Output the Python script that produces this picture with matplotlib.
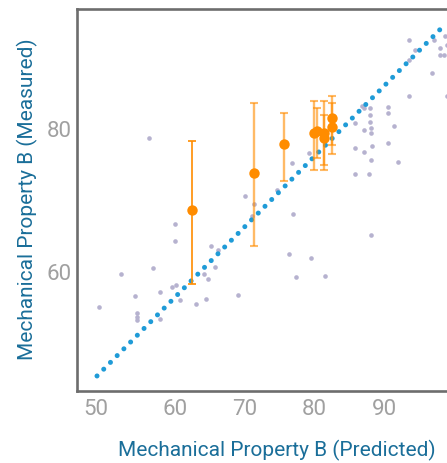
import matplotlib.pyplot as plt
from matplotlib.transforms import ScaledTranslation

# predicted vs measured, all samples (grey)
all_pred = [56.3, 93.6, 94.5, 93.6, 97.2, 98.0, 98.0, 98.6, 98.8, 99.0,
            96.9, 93.6, 99.0, 86.9, 87.1, 88.0, 85.8, 88.0, 88.0, 90.5,
            90.5, 87.1, 88.1, 88.1, 91.4, 85.8, 87.1, 88.2, 90.6, 88.1,
            92.0, 85.8, 87.9, 79.2, 76.8, 74.6, 70.1, 71.3, 76.9, 71.0,
            88.1, 60.0, 60.0, 65.1, 66.1, 76.3, 79.5, 56.9, 52.3, 65.7,
            64.2, 64.8, 77.3, 81.5, 57.9, 59.5, 60.1, 54.3, 60.7, 63.0,
            64.4, 69.0, 49.1, 54.6, 54.6, 54.6, 57.9]
all_meas = [78.6, 92.2, 90.9, 89.5, 92.2, 91.2, 90.1, 90.1, 92.8, 91.5,
            87.6, 84.5, 84.5, 83.1, 82.8, 82.8, 80.7, 81.8, 80.8, 82.9,
            82.0, 79.7, 79.9, 79.3, 80.2, 77.1, 76.6, 77.4, 77.8, 75.5,
            75.2, 73.5, 73.5, 76.5, 75.1, 71.3, 70.5, 69.3, 67.9, 67.6,
            65.0, 66.6, 64.1, 63.5, 62.9, 62.3, 61.8, 60.4, 59.6, 60.5,
            59.6, 58.9, 59.1, 59.3, 57.1, 57.8, 58.0, 56.5, 55.9, 55.3,
            56.0, 56.6, 55.0, 54.1, 53.6, 53.1, 53.2]

# highlighted samples with measured range
sel_pred = [62.4, 71.4, 75.7, 80.0, 80.4, 81.4, 81.4, 82.5, 82.5]
sel_meas = [68.5, 73.7, 77.7, 79.2, 79.5, 79.2, 78.6, 81.3, 80.1]
sel_low = [58.2, 63.4, 72.6, 74.1, 75.8, 74.1, 74.8, 76.4, 77.6]
sel_high = [78.2, 83.4, 82.1, 83.7, 82.8, 83.7, 81.8, 84.5, 83.4]

# reference line
ref_x = [48.8, 98.1]
ref_y = [45.3, 93.8]

xticks = [50, 60, 70, 80, 90]
yticks = [60, 80]

label_color = "#1a6e99"
tick_color = "#a0a0a0"

plt.rcParams["font.family"] = ["Roboto", "DejaVu Sans"]

fig = plt.figure(figsize=(4.47, 4.64), dpi=100)
ax = fig.add_axes([77 / 447, 72 / 464, 383 / 447, 382 / 464])

ax.scatter(all_pred, all_meas, s=11, color="#b6b2cf", linewidths=0, zorder=2)

ax.plot(ref_x, ref_y, color="#1f9bd7", lw=3.6, linestyle=(0, (0.01, 1.9)),
        dash_capstyle="round", zorder=3)

for i in range(len(sel_pred)):
    err = [[sel_meas[i] - sel_low[i]], [sel_high[i] - sel_meas[i]]]
    if i == 0:
        ax.errorbar([sel_pred[i]], [sel_meas[i]], yerr=err, fmt="none",
                    ecolor="#ff8c00", elinewidth=1.2, capsize=3, capthick=1.2,
                    zorder=4)
    else:
        ax.errorbar([sel_pred[i]], [sel_meas[i]], yerr=err, fmt="none",
                    ecolor="#ff8c00", alpha=0.6, elinewidth=1.7, capsize=3,
                    capthick=1.5, zorder=4)
ax.plot(sel_pred, sel_meas, "o", color="#ff8c00", markersize=7.5,
        markeredgewidth=0, zorder=5)

ax.set_xlim(45.93, 100.9)
ax.set_ylim(43.2, 96.6)
ax.set_xticks(xticks)
ax.set_yticks(yticks)
ax.tick_params(length=0, labelsize=16, labelcolor=tick_color)
ax.tick_params(axis="x", pad=5)
ax.tick_params(axis="y", pad=4)

for s in ax.spines.values():
    s.set_color("#6d6d6d")
    s.set_linewidth(1.9)

ax.set_xlabel("Mechanical Property B (Predicted)", fontsize=15,
              color=label_color, va="center")
ax.xaxis.set_label_coords(0.522, -0.152)
ax.set_ylabel("Mechanical Property B (Measured)", fontsize=15,
              color=label_color, va="center")
ax.yaxis.set_label_coords(-0.1305, 0.505)

# first x label sits flush with the frame
first = ax.get_xticklabels()[0]
first.set_transform(first.get_transform()
                    + ScaledTranslation(-0.1, 0, fig.dpi_scale_trans))

fig.savefig("out.png", dpi=100)
